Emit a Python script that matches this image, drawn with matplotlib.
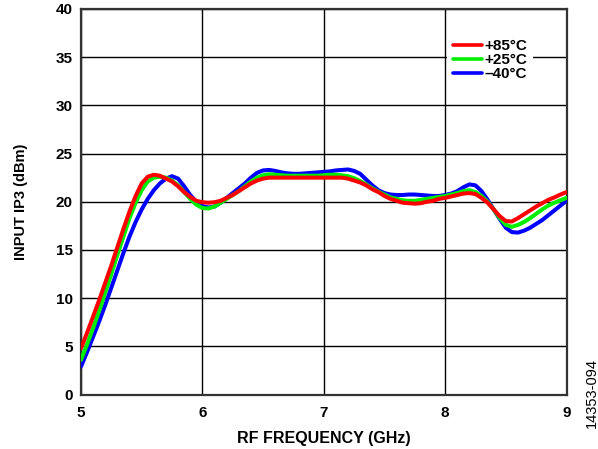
import matplotlib
matplotlib.use("Agg")
import matplotlib.pyplot as plt

freq = [5.00, 5.05, 5.10, 5.15, 5.20, 5.25, 5.30, 5.35, 5.40, 5.45,
        5.50, 5.55, 5.60, 5.65, 5.70, 5.75, 5.80, 5.85, 5.90, 5.95,
        6.00, 6.05, 6.10, 6.15, 6.20, 6.25, 6.30, 6.35, 6.40, 6.45,
        6.50, 6.55, 6.60, 6.65, 6.70, 6.75, 6.80, 6.85, 6.90, 6.95,
        7.00, 7.05, 7.10, 7.15, 7.20, 7.25, 7.30, 7.35, 7.40, 7.45,
        7.50, 7.55, 7.60, 7.65, 7.70, 7.75, 7.80, 7.85, 7.90, 7.95,
        8.00, 8.05, 8.10, 8.15, 8.20, 8.25, 8.30, 8.35, 8.40, 8.45,
        8.50, 8.55, 8.60, 8.65, 8.70, 8.75, 8.80, 8.85, 8.90, 8.95, 9.00]

ip3_p85 = [4.8, 6.4, 8.1, 9.8, 11.6, 13.4, 15.3, 17.2, 19.0, 20.6,
           21.9, 22.6, 22.8, 22.7, 22.4, 22.1, 21.6, 21.0, 20.5, 20.1,
           19.95, 19.9, 19.95, 20.1, 20.4, 20.7, 21.1, 21.5, 21.9, 22.2,
           22.4, 22.5, 22.5, 22.5, 22.5, 22.5, 22.5, 22.5, 22.5, 22.5,
           22.5, 22.5, 22.5, 22.5, 22.4, 22.2, 22.0, 21.7, 21.3, 21.0,
           20.6, 20.3, 20.1, 19.9, 19.85, 19.8, 19.85, 20.0, 20.1, 20.3,
           20.4, 20.55, 20.7, 20.85, 20.9, 20.8, 20.4, 19.9, 19.2, 18.5,
           18.0, 17.95, 18.3, 18.7, 19.1, 19.5, 19.85, 20.2, 20.45, 20.75, 21.0]

ip3_p25 = [3.6, 5.2, 6.9, 8.7, 10.6, 12.5, 14.5, 16.4, 18.3, 19.9,
           21.2, 22.1, 22.5, 22.6, 22.5, 22.2, 21.7, 21.0, 20.3, 19.7,
           19.35, 19.3, 19.5, 19.9, 20.3, 20.7, 21.1, 21.6, 22.1, 22.5,
           22.75, 22.85, 22.8, 22.75, 22.7, 22.7, 22.7, 22.7, 22.7, 22.7,
           22.75, 22.8, 22.8, 22.75, 22.65, 22.45, 22.15, 21.8, 21.4, 21.05,
           20.75, 20.45, 20.3, 20.15, 20.1, 20.1, 20.2, 20.3, 20.4, 20.5,
           20.6, 20.75, 20.9, 21.1, 21.2, 21.0, 20.6, 20.0, 19.2, 18.3,
           17.6, 17.4, 17.6, 17.9, 18.3, 18.75, 19.2, 19.6, 19.9, 20.15, 20.4]

ip3_m40 = [2.9, 4.4, 6.0, 7.6, 9.3, 11.1, 12.9, 14.7, 16.4, 17.9,
           19.2, 20.3, 21.2, 21.9, 22.4, 22.65, 22.4, 21.6, 20.7, 20.0,
           19.55, 19.4, 19.5, 19.9, 20.4, 20.9, 21.4, 21.9, 22.5, 23.0,
           23.25, 23.3, 23.2, 23.05, 22.95, 22.9, 22.9, 22.95, 23.0, 23.05,
           23.1, 23.15, 23.25, 23.3, 23.35, 23.2, 22.9, 22.3, 21.7, 21.2,
           20.9, 20.75, 20.7, 20.7, 20.75, 20.75, 20.7, 20.65, 20.6, 20.6,
           20.7, 20.85, 21.1, 21.5, 21.8, 21.7, 21.1, 20.2, 19.2, 18.2,
           17.3, 16.85, 16.8, 17.0, 17.3, 17.7, 18.1, 18.6, 19.1, 19.6, 20.1]

labels = ["+85°C", "+25°C", "\u201340°C"]
colors = ["#ff0000", "#00ee00", "#0000ff"]

x_ticks = [5, 6, 7, 8, 9]
y_ticks = [0, 5, 10, 15, 20, 25, 30, 35, 40]

plt.rcParams['font.family'] = ['Liberation Sans', 'DejaVu Sans']
plt.rcParams['font.weight'] = 'bold'

fig = plt.figure(figsize=(5.98, 4.49), dpi=100)
ax = fig.add_axes([81/598, 1 - 394.5/449, (566.5-81)/598, (394.5-9)/449])

series = [ip3_m40, ip3_p25, ip3_p85]
ser_colors = [colors[2], colors[1], colors[0]]
ser_labels = [labels[2], labels[1], labels[0]]
handles = {}
for ys, c, lb in zip(series, ser_colors, ser_labels):
    ln, = ax.plot(freq, ys, color=c, lw=2.9, solid_capstyle='round',
                  solid_joinstyle='round', zorder=3)
    handles[lb] = ln

ax.set_xlim(5, 9)
ax.set_ylim(0, 40)
ax.set_xticks(x_ticks)
ax.set_yticks(y_ticks)
ax.tick_params(length=0, labelsize=11, pad=6)
ax.tick_params(axis='x', pad=8)
for lab in ax.get_xticklabels() + ax.get_yticklabels():
    lab.set_fontweight('bold')
ax.grid(True, color='black', lw=1.0, zorder=1)
for s in ax.spines.values():
    s.set_color('#333333')
    s.set_linewidth(1.6)

ax.set_xlabel("RF FREQUENCY (GHz)", fontsize=11.5, fontweight='bold', labelpad=8)
ax.set_ylabel("INPUT IP3 (dBm)", fontsize=10.5, fontweight='bold', labelpad=20)

leg = ax.legend([handles[l] for l in labels], labels, loc='upper right',
                frameon=True, fontsize=11,
                handlelength=1.9, handletextpad=0.2, labelspacing=0.0,
                borderpad=0.35, borderaxespad=0)
leg.set_bbox_to_anchor((533.0/598, 1 - 34.0/449), transform=fig.transFigure)
leg.get_frame().set_edgecolor('none')
leg.get_frame().set_facecolor('white')
leg.get_frame().set_alpha(1)
leg.get_frame().set_boxstyle('square', pad=0)
for t in leg.get_texts():
    t.set_fontweight('bold')
for h in leg.get_lines():
    h.set_linewidth(2.6)

fig.text(592/598, 1 - 393/449, "14353-094", rotation=90, fontsize=10.5,
         fontweight='normal', ha='center', va='center')

fig.savefig("out.png", dpi=100)
